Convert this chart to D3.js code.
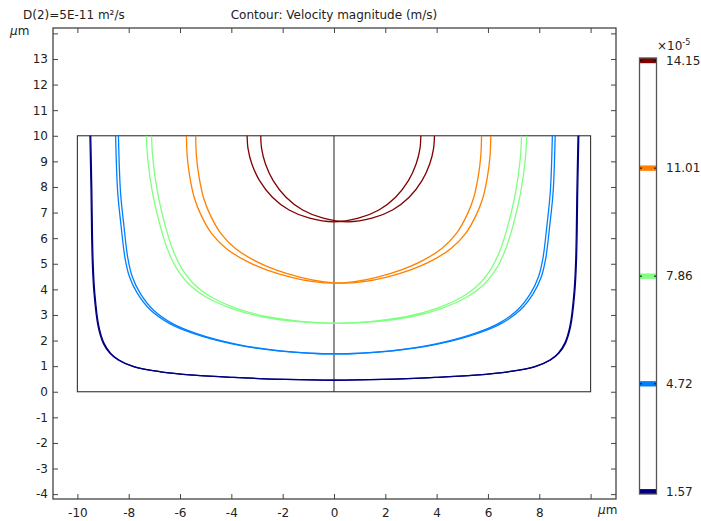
<!DOCTYPE html>
<html>
<head>
<meta charset="utf-8">
<script src="https://cdn.jsdelivr.net/npm/d3@7"></script>
<style>
  body { margin: 0; background: #fff; }
  text { font-family: "DejaVu Sans", sans-serif; font-size: 12px; fill: #222; }
</style>
</head>
<body>
<div id="chart"></div>
<script>
// contour levels (x1e-5 m/s) and their colours
const levels = [1.57, 4.72, 7.86, 11.01, 14.15];
const levelColors = ['#000080', '#0080ff', '#80ff80', '#ff8000', '#800000'];

const xTicks = [-10, -8, -6, -4, -2, 0, 2, 4, 6, 8];
const yTicks = [-4, -3, -2, -1, 0, 1, 2, 3, 4, 5, 6, 7, 8, 9, 10, 11, 12, 13];

// half profiles of each contour: [distance from centre, y] in um
const profile157 = [[9.51, 10], [9.47, 8], [9.42, 5.14], [9.35, 3.84], [9.19, 2.54], [8.99, 1.89],
  [8.73, 1.50], [8.41, 1.24], [7.82, 0.98], [6.78, 0.78], [5.49, 0.65], [3.93, 0.56], [1.9, 0.48], [0, 0.45]];
const profile472 = [[8.51, 10], [8.43, 7.81], [8.30, 6.51], [8.14, 5.2], [7.97, 4.49], [7.66, 3.84],
  [7.15, 3.19], [6.42, 2.67], [5.49, 2.28], [3.93, 1.86], [2.2, 1.6], [0, 1.48]];
const profile786 = [[7.31, 10], [7.26, 9.12], [7.08, 7.81], [6.78, 6.51], [6.50, 5.60], [6.15, 4.85],
  [5.65, 4.2], [4.95, 3.68], [4.0, 3.26], [2.8, 2.93], [1.4, 2.74], [0, 2.67]];
const profile1101 = [[5.75, 10], [5.72, 9.2], [5.62, 8.4], [5.45, 7.6], [5.18, 6.9], [4.78, 6.2],
  [4.2, 5.6], [3.45, 5.12], [2.6, 4.75], [1.7, 4.48], [0.8, 4.3], [0, 4.24]];
const profile1415 = [[3.385, 10], [3.35, 9.5], [3.2, 8.9], [2.9, 8.25], [2.4, 7.6], [1.75, 7.1],
  [0.95, 6.78], [0, 6.64]];
const profiles = [profile157, profile472, profile786, profile1101, profile1415];

// centre of the two overlaid contour sets for each level
const centersA = [0, 0, 0, 0, 0];
const centersB = [0.03, 0.11, 0.2, 0.36, 0.53];

const width = 701, height = 521;

const svg = d3.select('#chart').append('svg')
  .attr('width', width)
  .attr('height', height);

var x = d3.scaleLinear().domain([-10.95, 10.99]).range([53, 616]);
var y = d3.scaleLinear().domain([-4.19, 14.21]).range([499, 28]);

// titles
svg.append('text').attr('x', 23).attr('y', 19)
  .text('D(2)=5E-11 m²/s');
svg.append('text').attr('x', 334).attr('y', 19).attr('text-anchor', 'middle')
  .text('Contour: Velocity magnitude (m/s)');

// axes (ticks point inwards)
svg.append('g').attr('transform', 'translate(53,0)')
  .call(d3.axisLeft(y).tickValues(yTicks.concat([14])).tickSize(-5).tickPadding(5)
    .tickFormat(d => d === 14 ? '' : d))
  .call(g => g.select('.domain').remove());
svg.append('g').attr('transform', 'translate(616,0)')
  .call(d3.axisRight(y).tickValues(yTicks.concat([14])).tickSize(-5).tickFormat(''))
  .call(g => g.select('.domain').remove());
svg.append('g').attr('transform', 'translate(0,499)')
  .call(d3.axisBottom(x).tickValues(xTicks.concat([10])).tickSize(-5).tickPadding(9)
    .tickFormat(d => d === 10 ? '' : d))
  .call(g => g.select('.domain').remove());
svg.append('g').attr('transform', 'translate(0,28)')
  .call(d3.axisTop(x).tickValues(xTicks.concat([10])).tickSize(-5).tickFormat(''))
  .call(g => g.select('.domain').remove());

svg.selectAll('.tick line').attr('stroke', '#444');
svg.selectAll('.tick text').style('font-size', '12px').attr('fill', '#222');

svg.append('rect')
  .attr('x', 53).attr('y', 28).attr('width', 616 - 53).attr('height', 499 - 28)
  .attr('fill', 'none').attr('stroke', '#444').attr('stroke-width', 1.3);

// unit labels
var um1 = svg.append('text').attr('x', 10).attr('y', 35);
um1.append('tspan').style('font-style', 'italic').text('μ');
um1.append('tspan').text('m');
var um2 = svg.append('text').attr('x', 598).attr('y', 514);
um2.append('tspan').style('font-style', 'italic').text('μ');
um2.append('tspan').text('m');

// geometry
svg.append('rect')
  .attr('x', x(-10)).attr('y', y(10))
  .attr('width', x(10) - x(-10)).attr('height', y(0) - y(10))
  .attr('fill', 'none').attr('stroke', '#333').attr('stroke-width', 1.1);
svg.append('line')
  .attr('x1', x(0)).attr('x2', x(0)).attr('y1', y(0)).attr('y2', y(10))
  .attr('stroke', '#333').attr('stroke-width', 1.1);

// contours
var line = d3.line()
  .x(d => x(d[0]))
  .y(d => y(d[1]))
  .curve(d3.curveCatmullRom.alpha(0.5));

function fullCurve(profile, c) {
  var left = profile.map(p => [c - p[0], p[1]]);
  var right = profile.slice(0, -1).reverse().map(p => [c + p[0], p[1]]);
  return left.concat(right);
}

profiles.forEach(function (profile, i) {
  [centersA[i], centersB[i]].forEach(function (c) {
    svg.append('path')
      .attr('d', line(fullCurve(profile, c)))
      .attr('fill', 'none')
      .attr('stroke', levelColors[i])
      .attr('stroke-width', 1.3);
  });
});

// colour legend
var cb = d3.scaleLinear().domain([1.57, 14.15]).range([491.8, 60.5]);
var cbX = 639.5, cbW = 17, cbTop = 58, cbBottom = 494;

svg.append('clipPath').attr('id', 'cbclip')
  .append('rect').attr('x', cbX).attr('y', cbTop).attr('width', cbW).attr('height', cbBottom - cbTop);

var bands = svg.append('g').attr('clip-path', 'url(#cbclip)');
levels.forEach(function (v, i) {
  bands.append('rect')
    .attr('x', cbX).attr('y', cb(v) - 2.7).attr('width', cbW).attr('height', 5.4)
    .attr('fill', levelColors[i]);
  bands.append('line')
    .attr('x1', cbX).attr('x2', cbX + 2.5).attr('y1', cb(v)).attr('y2', cb(v))
    .attr('stroke', '#000');
  bands.append('line')
    .attr('x1', cbX + cbW - 2.5).attr('x2', cbX + cbW).attr('y1', cb(v)).attr('y2', cb(v))
    .attr('stroke', '#000');
});

svg.append('rect')
  .attr('x', cbX).attr('y', cbTop).attr('width', cbW).attr('height', cbBottom - cbTop)
  .attr('fill', 'none').attr('stroke', '#555').attr('stroke-width', 1.3);

svg.selectAll('.cblabel')
  .data(levels)
  .enter()
  .append('text')
  .attr('class', 'cblabel')
  .attr('x', 666)
  .attr('y', d => cb(d))
  .attr('dy', '0.36em')
  .text(d => d.toFixed(2));

var exp = svg.append('text').attr('x', 657).attr('y', 50);
exp.append('tspan').text('×10');
exp.append('tspan').attr('dy', -5).style('font-size', '8px').text('-5');
</script>
</body>
</html>
